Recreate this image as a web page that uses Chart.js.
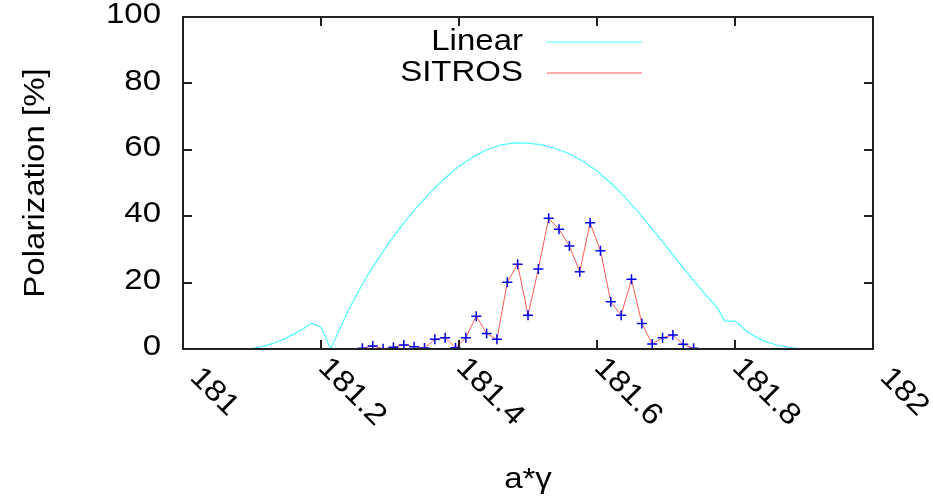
<!DOCTYPE html>
<html>
<head>
<meta charset="utf-8">
<script src="https://cdn.jsdelivr.net/npm/chart.js@4.4.0/dist/chart.umd.min.js"></script>
<style>
  html, body { margin: 0; padding: 0; background: #fff; }
  #wrap { width: 933px; height: 499px; position: relative; }
</style>
</head>
<body>
<div id="wrap"><canvas id="polChart"></canvas></div>
<script>
// theory curve
const linearX = [181.09, 181.10, 181.12, 181.14, 181.16, 181.175, 181.186, 181.2, 181.214, 181.226,
  181.24, 181.26, 181.28, 181.30, 181.32, 181.34, 181.36, 181.38, 181.40, 181.42, 181.44, 181.46,
  181.48, 181.50, 181.52, 181.54, 181.56, 181.58, 181.60, 181.62, 181.64, 181.66, 181.68, 181.70,
  181.72, 181.74, 181.76, 181.775, 181.785, 181.80, 181.82, 181.84, 181.86, 181.88, 181.90];
const linearY = [0, 0.1, 1.0, 2.4, 4.4, 6.2, 7.8, 6.6, 0, 5.5,
  11.8, 19.5, 26.3, 32.4, 38, 43, 47.5, 51.5, 55, 57.8, 60, 61.4,
  62.1, 62, 61.5, 60.4, 58.8, 56.5, 53.6, 50.0, 45.8, 41.2, 36.2, 31,
  25.8, 20.6, 15.8, 12.3, 8.4, 8.4, 4.8, 2.6, 1.2, 0.4, 0];

// tracking results
const sitrosX = [181.26, 181.275, 181.29, 181.305, 181.32, 181.335, 181.35, 181.365, 181.38, 181.395,
  181.41, 181.425, 181.44, 181.455, 181.47, 181.485, 181.5, 181.515, 181.53, 181.545, 181.56,
  181.575, 181.59, 181.605, 181.62, 181.635, 181.65, 181.665, 181.68, 181.695, 181.71, 181.725, 181.74];
const sitrosY = [0.2, 0.9, 0.1, 0.5, 1.2, 0.7, 0.3, 2.9, 3.4, 0.4,
  3.4, 9.9, 4.7, 2.9, 20.1, 25.5, 10.2, 24.1, 39.4, 36.1, 31.0,
  23.3, 38.0, 29.6, 14.2, 10.2, 21.0, 7.7, 1.5, 3.4, 4.2, 1.4, 0.2];

const xTicks = [181, 181.2, 181.4, 181.6, 181.8, 182];
const xTickLabels = ['181', '181.2', '181.4', '181.6', '181.8', '182'];
const yTicks = [0, 20, 40, 60, 80, 100];
const yTickLabels = ['0', '20', '40', '60', '80', '100'];
const seriesNames = ['Linear', 'SITROS'];
const xTitle = 'a*\u03b3';
const yTitle = 'Polarization [%]';

const FONT = '30px "Liberation Sans", Arial, sans-serif';
const STRETCH = 1.1;

function toPoints(xs, ys) {
  return xs.map((x, i) => ({ x: x, y: ys[i] }));
}

function wideText(ctx, text, x, y, align, angle) {
  ctx.save();
  ctx.translate(x, y);
  if (angle) ctx.rotate(angle);
  ctx.scale(STRETCH, 1);
  ctx.textAlign = align;
  ctx.textBaseline = 'middle';
  ctx.fillText(text, 0, 0);
  ctx.restore();
}

// gnuplot style frame, inward ticks, rotated x labels, legend
const gnuplotFrame = {
  id: 'gnuplotFrame',
  afterDraw(chart) {
    const ctx = chart.ctx;
    const a = chart.chartArea;
    const xs = chart.scales.x;
    const ys = chart.scales.y;
    const tick = 9;

    ctx.save();
    ctx.strokeStyle = '#222';
    ctx.lineWidth = 2;
    ctx.strokeRect(a.left, a.top, a.right - a.left, a.bottom - a.top);

    ctx.beginPath();
    xTicks.forEach(v => {
      const px = Math.round(xs.getPixelForValue(v));
      ctx.moveTo(px, a.bottom); ctx.lineTo(px, a.bottom - tick);
      ctx.moveTo(px, a.top); ctx.lineTo(px, a.top + tick);
    });
    yTicks.forEach(v => {
      const py = Math.round(ys.getPixelForValue(v));
      ctx.moveTo(a.left, py); ctx.lineTo(a.left + tick, py);
      ctx.moveTo(a.right, py); ctx.lineTo(a.right - tick, py);
    });
    ctx.stroke();

    ctx.fillStyle = '#000';
    ctx.font = FONT;
    yTicks.forEach((v, i) => {
      wideText(ctx, yTickLabels[i], a.left - 22, ys.getPixelForValue(v) - 2, 'right', 0);
    });
    xTicks.forEach((v, i) => {
      wideText(ctx, xTickLabels[i], xs.getPixelForValue(v) + 31, a.bottom + 43, 'center', Math.PI / 4);
    });

    wideText(ctx, xTitle, (a.left + a.right) / 2, 480, 'center', 0);
    wideText(ctx, yTitle, 36, (a.top + a.bottom) / 2, 'center', -Math.PI / 2);

    // legend
    const legendY = [42, 73];
    const legendCol = ['rgb(80,255,255)', 'rgb(255,90,90)'];
    seriesNames.forEach((name, i) => {
      wideText(ctx, name, 523, legendY[i], 'right', 0);
      ctx.strokeStyle = legendCol[i];
      ctx.lineWidth = 1.2;
      ctx.beginPath();
      ctx.moveTo(547, legendY[i]);
      ctx.lineTo(642, legendY[i]);
      ctx.stroke();
    });
    ctx.restore();
  }
};

new Chart(document.getElementById('polChart').getContext('2d'), {
  type: 'line',
  data: {
    datasets: [{
      label: seriesNames[0],
      data: toPoints(linearX, linearY),
      borderColor: 'rgb(80,255,255)',
      borderWidth: 1.2,
      pointRadius: 0,
      tension: 0,
      order: 2
    }, {
      label: seriesNames[1],
      data: toPoints(sitrosX, sitrosY),
      borderColor: 'rgb(255,90,90)',
      borderWidth: 1,
      pointStyle: 'cross',
      pointRadius: 5,
      pointBorderColor: '#0000ee',
      pointBackgroundColor: '#0000ee',
      pointBorderWidth: 1.5,
      tension: 0,
      order: 1
    }]
  },
  options: {
    responsive: true,
    maintainAspectRatio: false,
    animation: false,
    layout: { padding: { left: 183, right: 60, top: 17, bottom: 150 } },
    scales: {
      x: { type: 'linear', min: 181, max: 182, display: false },
      y: { min: 0, max: 100, display: false }
    },
    plugins: { legend: { display: false }, tooltip: { enabled: false } }
  },
  plugins: [gnuplotFrame]
});
</script>
</body>
</html>
